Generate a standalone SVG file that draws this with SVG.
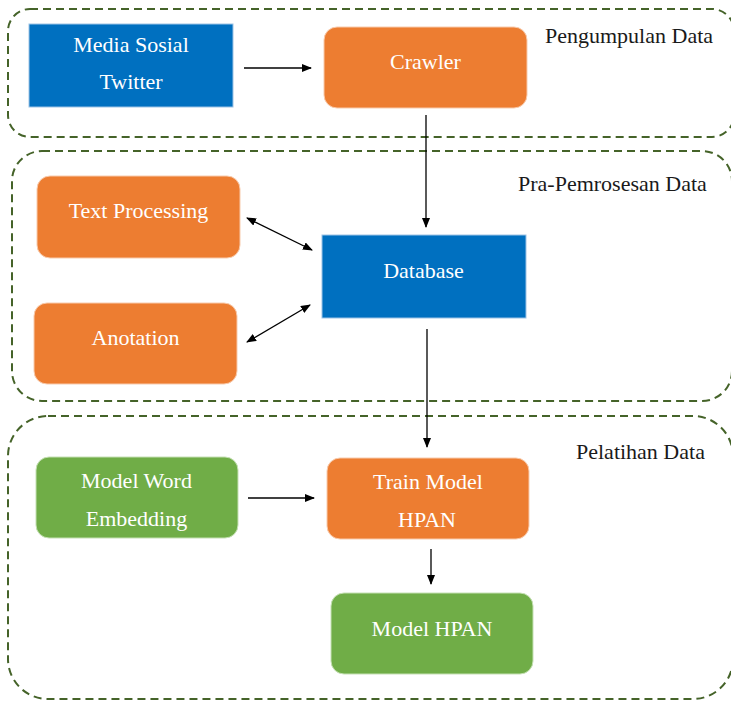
<svg xmlns="http://www.w3.org/2000/svg" width="731" height="702" viewBox="0 0 731 702">
<defs>
<style>
.grp{fill:none;stroke:#456329;stroke-width:2;stroke-dasharray:8 5}
.blue{fill:#0070C0;stroke:#9DC3E6;stroke-width:1}
.orange{fill:#ED7D31;stroke:#F8CBAD;stroke-width:1}
.green{fill:#70AD47;stroke:#C5E0B4;stroke-width:1}
text{font-family:'Liberation Serif','DejaVu Serif',serif;font-size:22px}
.nt{fill:#ffffff;text-anchor:middle}
.lbl{fill:#1a1a1a}
.con{fill:none;stroke:#000;stroke-width:1.3}
</style>
<marker id="ah" markerWidth="10" markerHeight="8" refX="9" refY="4" orient="auto" markerUnits="userSpaceOnUse">
<path d="M0,0 L10,4 L0,8 Z" fill="#000"/>
</marker>
<marker id="as" markerWidth="10" markerHeight="8" refX="1" refY="4" orient="auto" markerUnits="userSpaceOnUse">
<path d="M10,0 L0,4 L10,8 Z" fill="#000"/>
</marker>
</defs>
<rect width="731" height="702" fill="#ffffff"/>
<g id="groups" font-family="Liberation Serif, serif">
<g id="grp-pengumpulan"><rect class="grp" x="8" y="9" width="726" height="128" rx="22"/><text class="lbl" x="545" y="43">Pengumpulan Data</text></g>
<g id="grp-pra"><rect class="grp" x="12" y="151" width="720" height="250" rx="30"/><text class="lbl" x="518" y="191">Pra-Pemrosesan Data</text></g>
<g id="grp-pelatihan"><rect class="grp" x="8" y="416" width="725" height="283" rx="40"/><text class="lbl" x="576" y="459">Pelatihan Data</text></g>
</g>
<g id="connectors">
<line class="con" x1="244" y1="68" x2="311" y2="68" marker-end="url(#ah)"/>
<line class="con" x1="426" y1="115" x2="426" y2="227" marker-end="url(#ah)"/>
<line class="con" x1="247" y1="218" x2="312" y2="250" marker-start="url(#as)" marker-end="url(#ah)"/>
<line class="con" x1="247" y1="342" x2="310" y2="305" marker-start="url(#as)" marker-end="url(#ah)"/>
<line class="con" x1="427" y1="329" x2="427" y2="447" marker-end="url(#ah)"/>
<line class="con" x1="248" y1="498" x2="314" y2="498" marker-end="url(#ah)"/>
<line class="con" x1="431" y1="549" x2="431" y2="584" marker-end="url(#ah)"/>
</g>
<g id="media-sosial"><rect class="blue" x="29" y="24" width="204" height="83"/><text class="nt" x="131" y="52">Media Sosial</text><text class="nt" x="131" y="89">Twitter</text></g>
<g id="crawler"><rect class="orange" x="324" y="27" width="203" height="81" rx="13"/><text class="nt" x="425.5" y="69">Crawler</text></g>
<g id="text-processing"><rect class="orange" x="37" y="176" width="203" height="82" rx="13"/><text class="nt" x="138.5" y="218">Text Processing</text></g>
<g id="anotation"><rect class="orange" x="34" y="303" width="203" height="81" rx="13"/><text class="nt" x="135.5" y="345">Anotation</text></g>
<g id="database"><rect class="blue" x="322" y="235" width="204" height="83"/><text class="nt" x="423.5" y="278">Database</text></g>
<g id="model-word-embedding"><rect class="green" x="36" y="457" width="202" height="81" rx="13"/><text class="nt" x="136.5" y="488">Model Word</text><text class="nt" x="136.5" y="526">Embedding</text></g>
<g id="train-model"><rect class="orange" x="327" y="458" width="202" height="81" rx="13"/><text class="nt" x="428" y="489">Train Model</text><text class="nt" x="427" y="527">HPAN</text></g>
<g id="model-hpan"><rect class="green" x="331" y="593" width="202" height="81" rx="13"/><text class="nt" x="432" y="636">Model HPAN</text></g>
</svg>
